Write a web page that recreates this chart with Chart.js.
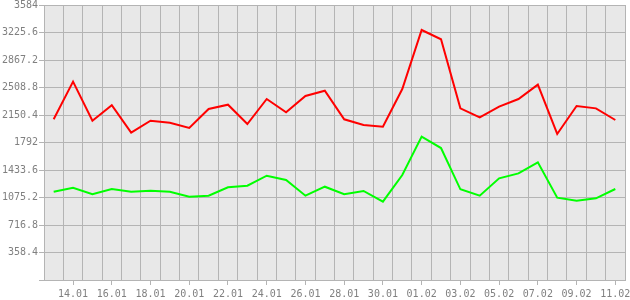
<!DOCTYPE html>
<html>
<head>
<meta charset="utf-8">
<script src="https://cdn.jsdelivr.net/npm/chart.js@4"></script>
<style>
  body { margin: 0; background: #fff; }
  #wrap { width: 630px; height: 300px; }
</style>
</head>
<body>
<div id="wrap"><canvas id="myChart" width="630" height="300"></canvas></div>
<script>
const days = [
  "13.01", "14.01", "15.01", "16.01", "17.01", "18.01", "19.01", "20.01", "21.01", "22.01",
  "23.01", "24.01", "25.01", "26.01", "27.01", "28.01", "29.01", "30.01", "31.01", "01.02",
  "02.02", "03.02", "04.02", "05.02", "06.02", "07.02", "08.02", "09.02", "10.02", "11.02"
];
const redValues = [
  2094, 2585, 2076, 2277, 1920, 2076, 2050, 1981, 2229, 2285,
  2033, 2359, 2185, 2398, 2467, 2094, 2020, 1998, 2489, 3258,
  3137, 2237, 2120, 2259, 2359, 2546, 1903, 2268, 2237, 2085
];
const greenValues = [
  1151, 1203, 1117, 1186, 1151, 1164, 1151, 1086, 1099, 1208,
  1229, 1359, 1303, 1099, 1216, 1117, 1160, 1021, 1368, 1868,
  1720, 1182, 1099, 1325, 1390, 1534, 1073, 1034, 1064, 1186
];
const yTicks = [0, 358.4, 716.8, 1075.2, 1433.6, 1792, 2150.4, 2508.8, 2867.2, 3225.6, 3584];
const yTickLabels = ["", "358.4", "716.8", "1075.2", "1433.6", "1792", "2150.4", "2508.8", "2867.2", "3225.6", "3584"];

const gridColor = "#b4b4b4";

Chart.defaults.font.family = "'DejaVu Sans Mono', monospace";
Chart.defaults.font.size = 10;
Chart.defaults.color = "#808080";

// grey plot background
const plotBackground = {
  id: "plotBackground",
  beforeDraw(chart) {
    const { ctx, chartArea } = chart;
    ctx.save();
    ctx.fillStyle = "#e8e8e8";
    ctx.fillRect(chartArea.left, chartArea.top, chartArea.right - chartArea.left, chartArea.bottom - chartArea.top);
    ctx.restore();
  },
};

const ctx = document.getElementById("myChart");

new Chart(ctx, {
  type: "line",
  data: {
    labels: days,
    datasets: [
      {
        data: redValues,
        borderColor: "#ff0000",
        borderWidth: 2,
        pointRadius: 0,
        tension: 0,
      },
      {
        data: greenValues,
        borderColor: "#00ff00",
        borderWidth: 2,
        pointRadius: 0,
        tension: 0,
      },
    ],
  },
  options: {
    responsive: false,
    animation: false,
    layout: { padding: { top: 5, right: 5, left: 0, bottom: 0 } },
    plugins: {
      legend: { display: false },
      tooltip: { enabled: false },
    },
    scales: {
      x: {
        type: "category",
        offset: true,
        weight: 0,
        grid: { offset: true, color: gridColor, drawTicks: false },
        border: { color: gridColor },
        ticks: { display: false },
        afterFit(scale) {
          scale.height = 0;
          scale.paddingLeft = 0;
          scale.paddingRight = 0;
        },
      },
      x2: {
        type: "category",
        position: "bottom",
        labels: days,
        offset: true,
        weight: 1,
        grid: { offset: false, drawOnChartArea: false, tickLength: 5, color: gridColor },
        border: { display: false },
        ticks: {
          autoSkip: false,
          maxRotation: 0,
          padding: 3,
          callback: function (value, index) {
            return index % 2 === 1 ? this.getLabelForValue(value) : null;
          },
        },
        afterFit(scale) {
          scale.height = 20;
          scale.paddingLeft = 0;
          scale.paddingRight = 0;
        },
      },
      y: {
        min: 0,
        max: 3584,
        grid: { color: gridColor, tickLength: 5 },
        border: { color: gridColor },
        ticks: {
          padding: 1,
          callback: function (value, index) {
            return yTickLabels[index];
          },
        },
        afterBuildTicks(scale) {
          scale.ticks = yTicks.map((v) => ({ value: v }));
        },
        afterFit(scale) {
          scale.width = 44;
          scale.paddingTop = 0;
          scale.paddingBottom = 0;
        },
      },
    },
  },
  plugins: [plotBackground],
});
</script>
</body>
</html>
